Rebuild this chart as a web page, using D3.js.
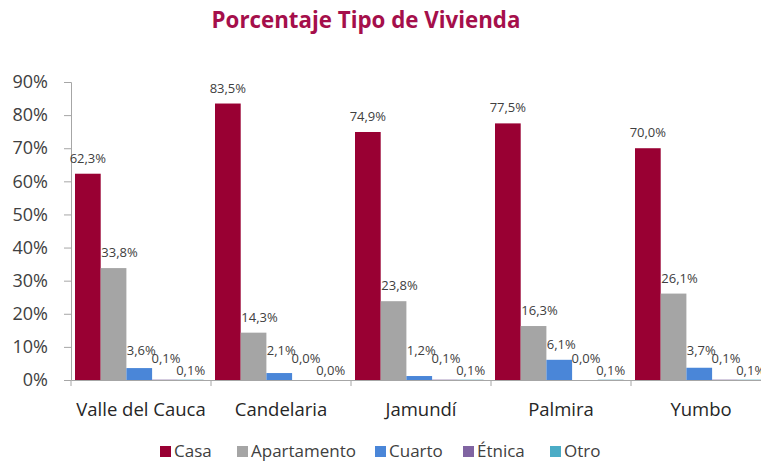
<!DOCTYPE html>
<html><head><meta charset="utf-8">
<script src="https://cdn.jsdelivr.net/npm/d3@7"></script>
<style>body{margin:0;background:#fff;}svg{display:block;font-family:"Open Sans",sans-serif;}</style>
</head><body><div id="chart"></div>
<script>
const categories = ["Valle del Cauca","Candelaria","Jamundí","Palmira","Yumbo"];
const seriesNames = ["Casa","Apartamento","Cuarto","Étnica","Otro"];
const casa = [62.3, 83.5, 74.9, 77.5, 70.0];
const apartamento = [33.8, 14.3, 23.8, 16.3, 26.1];
const cuarto = [3.6, 2.1, 1.2, 6.1, 3.7];
const etnica = [0.1, 0.0, 0.1, 0.0, 0.1];
const otro = [0.1, 0.0, 0.1, 0.1, 0.1];
const yTicks = [0,10,20,30,40,50,60,70,80,90];
const colors = ["#990033","#A5A5A5","#4A86D8","#8064A2","#4BACC6"];
const seriesValues = [casa, apartamento, cuarto, etnica, otro];

const W = 761, H = 463;
const svg = d3.select("#chart").append("svg").attr("width", W).attr("height", H);

const x0 = d3.scaleBand().domain(categories).range([71, 771]).paddingInner(0).paddingOuter(0);
const x1 = d3.scaleBand().domain(seriesNames).range([4, 132.5]).paddingOuter(0).paddingInner(0);
const y = d3.scaleLinear().domain([0, 90]).range([380, 82]);

const fmt = v => v.toFixed(1).replace(".", ",") + "%";

// title
svg.append("text").attr("x", 366).attr("y", 28).attr("text-anchor", "middle")
  .attr("font-size", 22.3).attr("font-weight", "bold").attr("fill", "#A50F4B")
  .text("Porcentaje Tipo de Vivienda");

// y axis
const yAxis = svg.append("g").attr("transform", "translate(71,0)")
  .call(d3.axisLeft(y).tickValues(yTicks).tickFormat(d => d + "%").tickSize(7).tickPadding(16));
yAxis.select(".domain").attr("stroke", "#A6A6A6");
yAxis.selectAll(".tick line").attr("stroke", "#A6A6A6");
yAxis.selectAll(".tick text").attr("font-size", 18).attr("fill", "#404040").attr("font-family", "Open Sans");

// x axis
const xAxis = svg.append("g").attr("transform", "translate(0,380)")
  .call(d3.axisBottom(x0).tickSize(0).tickPadding(23).tickSizeOuter(0));
xAxis.select(".domain").attr("stroke", "#A6A6A6");
xAxis.selectAll(".tick text").attr("font-size", 18.5).attr("fill", "#262626").attr("font-family", "Open Sans");
// boundary ticks
svg.append("g").selectAll("line").data(categories).join("line")
  .attr("x1", d => x0(d)).attr("x2", d => x0(d)).attr("y1", 380).attr("y2", 386)
  .attr("stroke", "#A6A6A6");

// bars
const groups = svg.append("g").selectAll("g").data(categories).join("g")
  .attr("transform", d => `translate(${x0(d)},0)`);
seriesNames.forEach((s, si) => {
  groups.append("rect")
    .attr("x", x1(s)).attr("width", x1.bandwidth())
    .attr("y", (d, i) => y(seriesValues[si][i]))
    .attr("height", (d, i) => 380 - y(seriesValues[si][i]))
    .attr("fill", colors[si]);
});

// labels
function labelY(si, v) {
  if (si === 0 || si === 1) return y(v) - 11;
  if (si === 2) return Math.min(y(v) - 11, 355);
  if (si === 3) return 363;
  return 375;
}
const dx = [0, 6, 2, 1, 0];
seriesNames.forEach((s, si) => {
  groups.append("text")
    .attr("x", x1(s) + x1.bandwidth() / 2 + dx[si])
    .attr("y", (d, i) => labelY(si, seriesValues[si][i]))
    .attr("text-anchor", "middle").attr("font-size", 13).attr("fill", "#404040")
    .text((d, i) => fmt(seriesValues[si][i]));
});

// legend
const legendX = [160, 237, 375, 463, 550];
const lg = svg.append("g");
seriesNames.forEach((s, si) => {
  lg.append("rect").attr("x", legendX[si]).attr("y", 446).attr("width", 11).attr("height", 11).attr("fill", colors[si]);
  lg.append("text").attr("x", legendX[si] + 14).attr("y", 457).attr("font-size", 17).attr("fill", "#404040").text(s);
});
</script></body></html>
